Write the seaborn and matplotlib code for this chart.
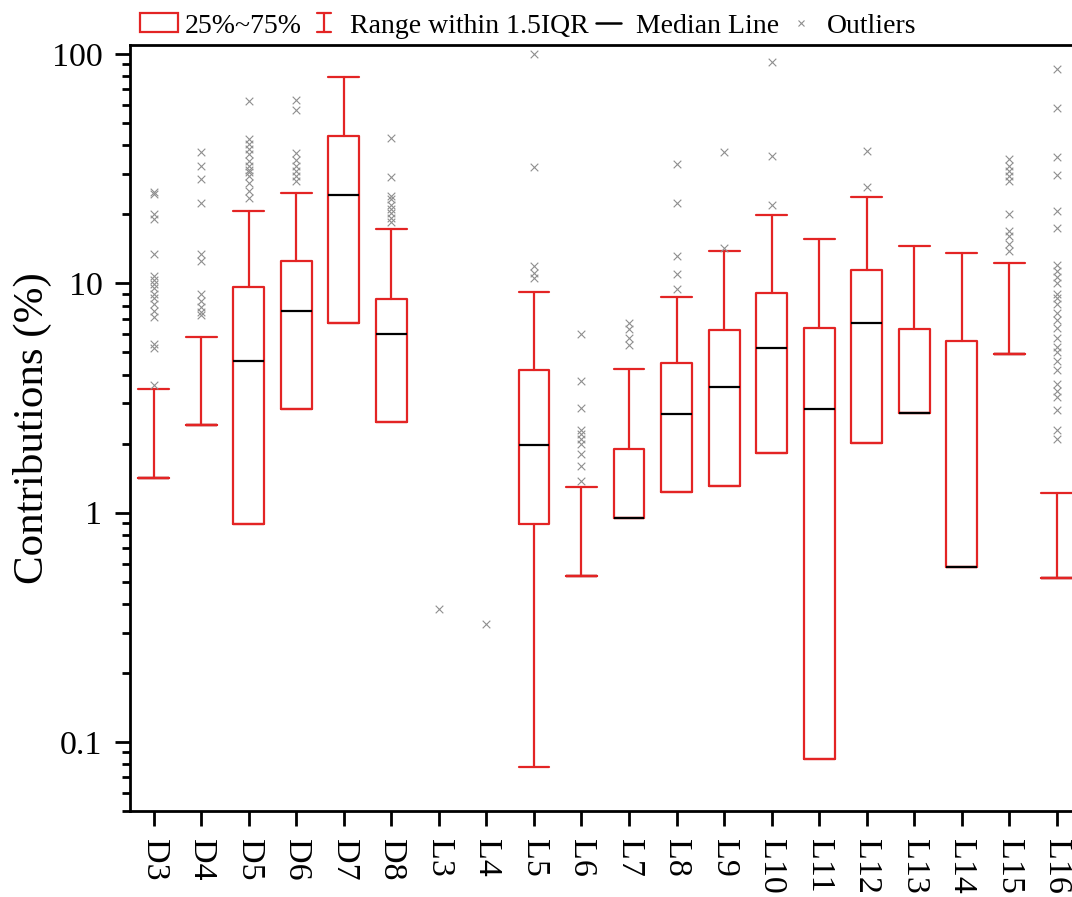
import numpy as np
import pandas as pd
import matplotlib
matplotlib.use("Agg")
import matplotlib.pyplot as plt
import seaborn as sns
from matplotlib.lines import Line2D
from matplotlib.patches import Rectangle
from matplotlib.legend_handler import HandlerBase
from matplotlib.ticker import LogLocator, NullFormatter

# ---------------------------------------------------------------- data
categories = ["D3", "D4", "D5", "D6", "D7", "D8", "L3", "L4", "L5", "L6",
              "L7", "L8", "L9", "L10", "L11", "L12", "L13", "L14", "L15", "L16"]

nan = np.nan
q1 = [1.42, 2.42, 0.89, 2.83, 6.74, 2.48, nan, nan, 0.89, 0.53,
      0.95, 1.23, 1.30, 1.82, 0.084, 2.02, 2.71, 0.58, 4.9, 0.52]
median = [1.42, 2.42, 4.57, 7.59, 24.3, 5.99, nan, nan, 1.98, 0.53,
          0.95, 2.70, 3.53, 5.23, 2.83, 6.7, 2.71, 0.58, 4.9, 0.52]
q3 = [1.42, 2.42, 9.67, 12.5, 43.8, 8.53, nan, nan, 4.2, 0.53,
      1.89, 4.5, 6.26, 9.04, 6.4, 11.4, 6.3, 5.6, 4.9, 0.52]
whisker_low = [1.42, 2.42, 0.89, 2.83, 6.74, 2.48, nan, nan, 0.078, 0.53,
               0.95, 1.23, 1.30, 1.82, 0.084, 2.02, 2.71, 0.58, 4.9, 0.52]
whisker_high = [3.47, 5.85, 20.7, 24.8, 79.0, 17.3, nan, nan, 9.19, 1.29,
                4.23, 8.74, 13.8, 19.8, 15.6, 23.9, 14.5, 13.6, 12.3, 1.22]

outliers_D3 = [3.6, 5.2, 5.45, 7.1, 7.6, 8.1, 8.6, 9.0, 9.5, 9.9, 10.3, 10.8,
               13.4, 19.0, 20.0, 24.5, 25.0]
outliers_D4 = [7.3, 7.5, 7.85, 8.4, 9.0, 12.5, 13.4, 22.5, 28.4, 32.5, 37.5]
outliers_D5 = [23.6, 25.3, 27.5, 29.4, 30.5, 31.1, 32.5, 34.2, 36.6, 38.4,
               40.3, 42.5, 62.4]
outliers_D6 = [28.0, 29.5, 31.0, 32.5, 34.5, 37.0, 57.0, 63.0]
outliers_D8 = [18.5, 19.3, 20.2, 21.0, 22.0, 23.2, 24.0, 29.0, 43.0]
outliers_L3 = [0.38]
outliers_L4 = [0.327]
outliers_L5 = [10.5, 11.1, 11.9, 32.3, 100.0]
outliers_L6 = [1.38, 1.6, 1.81, 2.0, 2.1, 2.2, 2.3, 2.85, 3.75, 6.0]
outliers_L7 = [5.4, 5.8, 6.3, 6.7]
outliers_L8 = [9.4, 11.0, 13.1, 22.3, 33.1]
outliers_L9 = [14.3, 37.2]
outliers_L10 = [21.9, 36.0, 92.5]
outliers_L12 = [26.2, 37.6]
outliers_L15 = [13.8, 14.9, 16.1, 16.9, 20.0, 28.0, 29.4, 30.9, 32.5, 34.9]
outliers_L16 = [2.1, 2.3, 2.8, 3.2, 3.4, 3.65, 4.2, 4.6, 5.0, 5.3, 5.8, 6.4,
                6.9, 7.4, 8.1, 8.6, 9.0, 10.0, 10.7, 11.3, 12.0, 17.5, 20.7,
                29.7, 35.6, 58.0, 86.0]

ytick_values = [0.1, 1, 10, 100]
ytick_labels = ["0.1", "1", "10", "100"]

outlier_groups = {
    "D3": outliers_D3, "D4": outliers_D4, "D5": outliers_D5, "D6": outliers_D6,
    "D8": outliers_D8, "L3": outliers_L3, "L4": outliers_L4, "L5": outliers_L5,
    "L6": outliers_L6, "L7": outliers_L7, "L8": outliers_L8, "L9": outliers_L9,
    "L10": outliers_L10, "L12": outliers_L12, "L15": outliers_L15,
    "L16": outliers_L16,
}

# ---------------------------------------------------------------- style
RED = "#e32424"
GREY = "#8f8f8f"

sns.set_theme(style="ticks")
plt.rcParams["font.family"] = ["Liberation Serif", "DejaVu Serif"]
plt.rcParams["axes.linewidth"] = 2.0
plt.rcParams["text.color"] = "black"

fig = plt.figure(figsize=(10.72, 8.97), dpi=100)
W, H = 1072, 897
# the plotting area runs slightly past the right edge of the figure
ax = fig.add_axes([130 / W, 1 - 811 / H, 950.5 / W, 766 / H])
ax.set_yscale("log")

# ---------------------------------------------------------------- boxes
stats, positions, collapsed = [], [], []
for i, cat in enumerate(categories):
    if np.isnan(q1[i]):
        continue
    stats.append(dict(label=cat, q1=q1[i], med=median[i], q3=q3[i],
                      whislo=whisker_low[i], whishi=whisker_high[i], fliers=[]))
    positions.append(i)
    collapsed.append(q1[i] == q3[i])

box_w = 0.65
art = ax.bxp(stats, positions=positions, widths=box_w, capwidths=box_w,
             showfliers=False, manage_ticks=False,
             boxprops=dict(color=RED, linewidth=1.6),
             whiskerprops=dict(color=RED, linewidth=1.6),
             capprops=dict(color=RED, linewidth=1.6),
             medianprops=dict(color="black", linewidth=1.6))
# a zero-height box is drawn as its red edge, covering the median
for line, flat in zip(art["medians"], collapsed):
    if flat:
        line.set_zorder(1.5)

# ---------------------------------------------------------------- outliers
out_df = pd.DataFrame(
    [(cat, v) for cat, vals in outlier_groups.items() for v in vals],
    columns=["category", "value"])
sns.stripplot(data=out_df, x="category", y="value", order=categories,
              jitter=False, marker="x", color=GREY, size=5.5, linewidth=0.8,
              ax=ax, zorder=3)

# ---------------------------------------------------------------- axes
ax.set_xlim(-0.5, len(categories) - 0.5)
ax.set_ylim(0.05, 109.4)
ax.set_yticks(ytick_values)
ax.set_yticklabels(ytick_labels)
ax.yaxis.set_minor_locator(LogLocator(base=10, subs=np.arange(2, 10)))
ax.yaxis.set_minor_formatter(NullFormatter())
ax.set_xticks(range(len(categories)))
ax.set_xticklabels(categories, rotation=-90)

ax.tick_params(axis="both", which="major", direction="out", length=10.8,
               width=2.0, color="black", labelsize=24.5, labelcolor="black",
               pad=9)
ax.tick_params(axis="y", which="minor", direction="out", length=5.8,
               width=2.0, color="black")
ax.tick_params(axis="x", which="minor", bottom=False)

for side in ["left", "bottom", "top"]:
    ax.spines[side].set_visible(True)
    ax.spines[side].set_color("black")
    ax.spines[side].set_linewidth(2.0)
ax.spines["right"].set_visible(False)
ax.grid(False)

ax.set_xlabel("")
ax.set_ylabel("Contributions (%)", fontsize=31, color="black")
ax.yaxis.set_label_coords(-0.082, 0.5)


# ---------------------------------------------------------------- legend
class SegmentHandler(HandlerBase):
    """Draws a handle from line segments given in handle-box fractions."""

    def __init__(self, segments, **kw):
        super().__init__(**kw)
        self.segments = segments

    def create_artists(self, legend, orig_handle, xdescent, ydescent,
                       width, height, fontsize, trans):
        artists = []
        for (x0, y0), (x1, y1) in self.segments:
            artists.append(Line2D(
                [-xdescent + x0 * width, -xdescent + x1 * width],
                [-ydescent + y0 * height, -ydescent + y1 * height],
                color=orig_handle.get_color(),
                linewidth=orig_handle.get_linewidth(),
                transform=trans))
        return artists


h_box = Rectangle((0, 0), 1, 1, facecolor="none", edgecolor=RED, linewidth=1.6)
h_range = Line2D([], [], color=RED, linewidth=1.6)
h_median = Line2D([], [], color="black", linewidth=1.8)
h_out = Line2D([], [], color=GREY, marker="x", linestyle="none",
               markersize=5, markeredgewidth=0.8)

ibeam = SegmentHandler([((0.5, 0.0), (0.5, 1.0)),
                        ((0.315, 0.0), (0.685, 0.0)),
                        ((0.315, 1.0), (0.685, 1.0))])
dash = SegmentHandler([((0.13, 0.5), (0.79, 0.5))])

fig.legend([h_box, h_range, h_median, h_out],
           ["25%~75%", "Range within 1.5IQR", "Median Line", "Outliers"],
           handler_map={h_range: ibeam, h_median: dash},
           loc="center left", bbox_to_anchor=(140 / W, 1 - 26 / H),
           ncol=4, frameon=False, fontsize=20, labelcolor="black",
           handlelength=1.37, handleheight=0.68, handletextpad=0.25,
           columnspacing=0.1, borderpad=0, borderaxespad=0)

fig.savefig("out.png", dpi=100)
